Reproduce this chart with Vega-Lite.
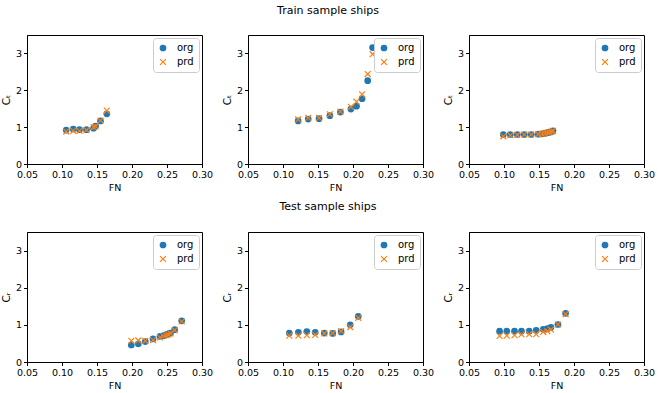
{
  "$schema": "https://vega.github.io/schema/vega-lite/v6.json",
  "padding": {"left": 0, "top": 4, "right": 2, "bottom": 2},
  "background": "white",
  "datasets": {
    "p1": [
      {"FN": 0.106, "org": 0.92, "prd": 0.88},
      {"FN": 0.116, "org": 0.95, "prd": 0.90},
      {"FN": 0.125, "org": 0.93, "prd": 0.90},
      {"FN": 0.135, "org": 0.93, "prd": 0.92},
      {"FN": 0.145, "org": 0.97, "prd": 1.00},
      {"FN": 0.148, "org": 1.03, "prd": 1.02},
      {"FN": 0.155, "org": 1.17, "prd": 1.18},
      {"FN": 0.164, "org": 1.36, "prd": 1.45}
    ],
    "p2": [
      {"FN": 0.1216, "org": 1.17, "prd": 1.21},
      {"FN": 0.136, "org": 1.22, "prd": 1.25},
      {"FN": 0.1515, "org": 1.23, "prd": 1.25},
      {"FN": 0.167, "org": 1.31, "prd": 1.35},
      {"FN": 0.182, "org": 1.41, "prd": 1.42},
      {"FN": 0.197, "org": 1.49, "prd": 1.55},
      {"FN": 0.205, "org": 1.57, "prd": 1.69},
      {"FN": 0.213, "org": 1.77, "prd": 1.89},
      {"FN": 0.221, "org": 2.26, "prd": 2.44},
      {"FN": 0.228, "org": 3.16, "prd": 2.98}
    ],
    "p3": [
      {"FN": 0.099, "org": 0.80, "prd": 0.75},
      {"FN": 0.109, "org": 0.80, "prd": 0.78},
      {"FN": 0.119, "org": 0.80, "prd": 0.79},
      {"FN": 0.129, "org": 0.80, "prd": 0.80},
      {"FN": 0.139, "org": 0.80, "prd": 0.80},
      {"FN": 0.149, "org": 0.81, "prd": 0.81},
      {"FN": 0.154, "org": 0.82, "prd": 0.82},
      {"FN": 0.158, "org": 0.83, "prd": 0.83},
      {"FN": 0.162, "org": 0.85, "prd": 0.85},
      {"FN": 0.165, "org": 0.86, "prd": 0.86},
      {"FN": 0.168, "org": 0.88, "prd": 0.88},
      {"FN": 0.170, "org": 0.90, "prd": 0.90}
    ],
    "p4": [
      {"FN": 0.199, "org": 0.46, "prd": 0.57},
      {"FN": 0.209, "org": 0.49, "prd": 0.58},
      {"FN": 0.219, "org": 0.55, "prd": 0.57},
      {"FN": 0.230, "org": 0.62, "prd": 0.59},
      {"FN": 0.240, "org": 0.69, "prd": 0.66},
      {"FN": 0.245, "org": 0.71, "prd": 0.70},
      {"FN": 0.249, "org": 0.74, "prd": 0.72},
      {"FN": 0.252, "org": 0.76, "prd": 0.74},
      {"FN": 0.255, "org": 0.78, "prd": 0.77},
      {"FN": 0.261, "org": 0.87, "prd": 0.86},
      {"FN": 0.271, "org": 1.11, "prd": 1.09}
    ],
    "p5": [
      {"FN": 0.109, "org": 0.78, "prd": 0.71},
      {"FN": 0.122, "org": 0.80, "prd": 0.71},
      {"FN": 0.134, "org": 0.82, "prd": 0.72},
      {"FN": 0.146, "org": 0.80, "prd": 0.73},
      {"FN": 0.159, "org": 0.78, "prd": 0.77},
      {"FN": 0.171, "org": 0.77, "prd": 0.78},
      {"FN": 0.183, "org": 0.81, "prd": 0.83},
      {"FN": 0.196, "org": 1.00, "prd": 0.94},
      {"FN": 0.2075, "org": 1.23, "prd": 1.19}
    ],
    "p6": [
      {"FN": 0.0937, "org": 0.83, "prd": 0.70},
      {"FN": 0.104, "org": 0.83, "prd": 0.71},
      {"FN": 0.115, "org": 0.83, "prd": 0.72},
      {"FN": 0.125, "org": 0.83, "prd": 0.74},
      {"FN": 0.136, "org": 0.83, "prd": 0.75},
      {"FN": 0.146, "org": 0.85, "prd": 0.75},
      {"FN": 0.156, "org": 0.88, "prd": 0.81},
      {"FN": 0.162, "org": 0.90, "prd": 0.83},
      {"FN": 0.167, "org": 0.93, "prd": 0.87},
      {"FN": 0.177, "org": 1.01, "prd": 1.01},
      {"FN": 0.188, "org": 1.31, "prd": 1.29}
    ]
  },
  "vconcat": [
    {
      "title": {"text": "Train sample ships", "fontSize": 11, "fontWeight": "normal", "font": "DejaVu Sans", "anchor": "middle", "offset": 19},
      "resolve": {"scale": {"color": "independent", "shape": "independent"}, "legend": {"color": "independent", "shape": "independent"}},
      "spacing": 7,
      "hconcat": [
        {
          "data": {"name": "p1"},
          "width": 175, "height": 129,
          "transform": [{"fold": ["org", "prd"], "as": ["s", "C"]}],
          "mark": {"type": "point", "filled": true, "opacity": 1, "size": 45},
          "encoding": {
            "x": {"field": "FN", "type": "quantitative", "scale": {"domain": [0.05, 0.30], "nice": false, "zero": false}, "axis": {"values": [0.05, 0.1, 0.15, 0.2, 0.25, 0.3], "format": ".2f", "title": "FN"}},
            "y": {"field": "C", "type": "quantitative", "scale": {"domain": [0, 3.5], "nice": false}, "axis": {"values": [0, 1, 2, 3], "title": "Cₜ"}},
            "color": {"field": "s", "type": "nominal", "scale": {"domain": ["org", "prd"], "range": ["#1f77b4", "#ff7f0e"]}, "legend": {"title": null, "orient": "top-right"}},
            "shape": {"field": "s", "type": "nominal", "scale": {"domain": ["org", "prd"], "range": ["circle", "M-1,-0.75L-0.75,-1L0,-0.25L0.75,-1L1,-0.75L0.25,0L1,0.75L0.75,1L0,0.25L-0.75,1L-1,0.75L-0.25,0Z"]}, "legend": {"title": null, "orient": "top-right"}},
            "order": {"field": "s"}
          }
        },
        {
          "data": {"name": "p2"},
          "width": 175, "height": 129,
          "transform": [{"fold": ["org", "prd"], "as": ["s", "C"]}],
          "mark": {"type": "point", "filled": true, "opacity": 1, "size": 45},
          "encoding": {
            "x": {"field": "FN", "type": "quantitative", "scale": {"domain": [0.05, 0.30], "nice": false, "zero": false}, "axis": {"values": [0.05, 0.1, 0.15, 0.2, 0.25, 0.3], "format": ".2f", "title": "FN"}},
            "y": {"field": "C", "type": "quantitative", "scale": {"domain": [0, 3.5], "nice": false}, "axis": {"values": [0, 1, 2, 3], "title": "Cₜ"}},
            "color": {"field": "s", "type": "nominal", "scale": {"domain": ["org", "prd"], "range": ["#1f77b4", "#ff7f0e"]}, "legend": {"title": null, "orient": "top-right"}},
            "shape": {"field": "s", "type": "nominal", "scale": {"domain": ["org", "prd"], "range": ["circle", "M-1,-0.75L-0.75,-1L0,-0.25L0.75,-1L1,-0.75L0.25,0L1,0.75L0.75,1L0,0.25L-0.75,1L-1,0.75L-0.25,0Z"]}, "legend": {"title": null, "orient": "top-right"}},
            "order": {"field": "s"}
          }
        },
        {
          "data": {"name": "p3"},
          "width": 175, "height": 129,
          "transform": [{"fold": ["org", "prd"], "as": ["s", "C"]}],
          "mark": {"type": "point", "filled": true, "opacity": 1, "size": 45},
          "encoding": {
            "x": {"field": "FN", "type": "quantitative", "scale": {"domain": [0.05, 0.30], "nice": false, "zero": false}, "axis": {"values": [0.05, 0.1, 0.15, 0.2, 0.25, 0.3], "format": ".2f", "title": "FN"}},
            "y": {"field": "C", "type": "quantitative", "scale": {"domain": [0, 3.5], "nice": false}, "axis": {"values": [0, 1, 2, 3], "title": "Cₜ"}},
            "color": {"field": "s", "type": "nominal", "scale": {"domain": ["org", "prd"], "range": ["#1f77b4", "#ff7f0e"]}, "legend": {"title": null, "orient": "top-right"}},
            "shape": {"field": "s", "type": "nominal", "scale": {"domain": ["org", "prd"], "range": ["circle", "M-1,-0.75L-0.75,-1L0,-0.25L0.75,-1L1,-0.75L0.25,0L1,0.75L0.75,1L0,0.25L-0.75,1L-1,0.75L-0.25,0Z"]}, "legend": {"title": null, "orient": "top-right"}},
            "order": {"field": "s"}
          }
        }
      ]
    },
    {
      "title": {"text": "Test sample ships", "fontSize": 11, "fontWeight": "normal", "font": "DejaVu Sans", "anchor": "middle", "offset": 20},
      "resolve": {"scale": {"color": "independent", "shape": "independent"}, "legend": {"color": "independent", "shape": "independent"}},
      "spacing": 7,
      "hconcat": [
        {
          "data": {"name": "p4"},
          "width": 175, "height": 130,
          "transform": [{"fold": ["org", "prd"], "as": ["s", "C"]}],
          "mark": {"type": "point", "filled": true, "opacity": 1, "size": 45},
          "encoding": {
            "x": {"field": "FN", "type": "quantitative", "scale": {"domain": [0.05, 0.30], "nice": false, "zero": false}, "axis": {"values": [0.05, 0.1, 0.15, 0.2, 0.25, 0.3], "format": ".2f", "title": "FN"}},
            "y": {"field": "C", "type": "quantitative", "scale": {"domain": [0, 3.5], "nice": false}, "axis": {"values": [0, 1, 2, 3], "title": "Cᵣ"}},
            "color": {"field": "s", "type": "nominal", "scale": {"domain": ["org", "prd"], "range": ["#1f77b4", "#ff7f0e"]}, "legend": {"title": null, "orient": "top-right"}},
            "shape": {"field": "s", "type": "nominal", "scale": {"domain": ["org", "prd"], "range": ["circle", "M-1,-0.75L-0.75,-1L0,-0.25L0.75,-1L1,-0.75L0.25,0L1,0.75L0.75,1L0,0.25L-0.75,1L-1,0.75L-0.25,0Z"]}, "legend": {"title": null, "orient": "top-right"}},
            "order": {"field": "s"}
          }
        },
        {
          "data": {"name": "p5"},
          "width": 175, "height": 130,
          "transform": [{"fold": ["org", "prd"], "as": ["s", "C"]}],
          "mark": {"type": "point", "filled": true, "opacity": 1, "size": 45},
          "encoding": {
            "x": {"field": "FN", "type": "quantitative", "scale": {"domain": [0.05, 0.30], "nice": false, "zero": false}, "axis": {"values": [0.05, 0.1, 0.15, 0.2, 0.25, 0.3], "format": ".2f", "title": "FN"}},
            "y": {"field": "C", "type": "quantitative", "scale": {"domain": [0, 3.5], "nice": false}, "axis": {"values": [0, 1, 2, 3], "title": "Cᵣ"}},
            "color": {"field": "s", "type": "nominal", "scale": {"domain": ["org", "prd"], "range": ["#1f77b4", "#ff7f0e"]}, "legend": {"title": null, "orient": "top-right"}},
            "shape": {"field": "s", "type": "nominal", "scale": {"domain": ["org", "prd"], "range": ["circle", "M-1,-0.75L-0.75,-1L0,-0.25L0.75,-1L1,-0.75L0.25,0L1,0.75L0.75,1L0,0.25L-0.75,1L-1,0.75L-0.25,0Z"]}, "legend": {"title": null, "orient": "top-right"}},
            "order": {"field": "s"}
          }
        },
        {
          "data": {"name": "p6"},
          "width": 175, "height": 130,
          "transform": [{"fold": ["org", "prd"], "as": ["s", "C"]}],
          "mark": {"type": "point", "filled": true, "opacity": 1, "size": 45},
          "encoding": {
            "x": {"field": "FN", "type": "quantitative", "scale": {"domain": [0.05, 0.30], "nice": false, "zero": false}, "axis": {"values": [0.05, 0.1, 0.15, 0.2, 0.25, 0.3], "format": ".2f", "title": "FN"}},
            "y": {"field": "C", "type": "quantitative", "scale": {"domain": [0, 3.5], "nice": false}, "axis": {"values": [0, 1, 2, 3], "title": "Cᵣ"}},
            "color": {"field": "s", "type": "nominal", "scale": {"domain": ["org", "prd"], "range": ["#1f77b4", "#ff7f0e"]}, "legend": {"title": null, "orient": "top-right"}},
            "shape": {"field": "s", "type": "nominal", "scale": {"domain": ["org", "prd"], "range": ["circle", "M-1,-0.75L-0.75,-1L0,-0.25L0.75,-1L1,-0.75L0.25,0L1,0.75L0.75,1L0,0.25L-0.75,1L-1,0.75L-0.25,0Z"]}, "legend": {"title": null, "orient": "top-right"}},
            "order": {"field": "s"}
          }
        }
      ]
    }
  ],
  "spacing": 8,
  "config": {
    "font": "DejaVu Sans",
    "view": {"stroke": "black", "strokeWidth": 1},
    "axis": {"grid": false, "domainColor": "black", "tickColor": "black", "labelColor": "black", "titleColor": "black", "labelFont": "DejaVu Sans", "titleFont": "DejaVu Sans", "labelFontSize": 9.5, "titleFontSize": 9.5, "titleFontWeight": "normal", "tickSize": 3.5, "labelPadding": 2, "titlePadding": 3, "labelFlush": false},
    "axisY": {"titlePadding": 4, "titleFontSize": 10.5},
    "legend": {"strokeColor": "#cccccc", "fillColor": "white", "padding": 5, "cornerRadius": 3, "offset": 3, "labelFontSize": 10, "labelFont": "DejaVu Sans", "labelColor": "black", "symbolSize": 45, "rowPadding": 4, "labelOffset": 9, "symbolStrokeWidth": 0}
  }
}
